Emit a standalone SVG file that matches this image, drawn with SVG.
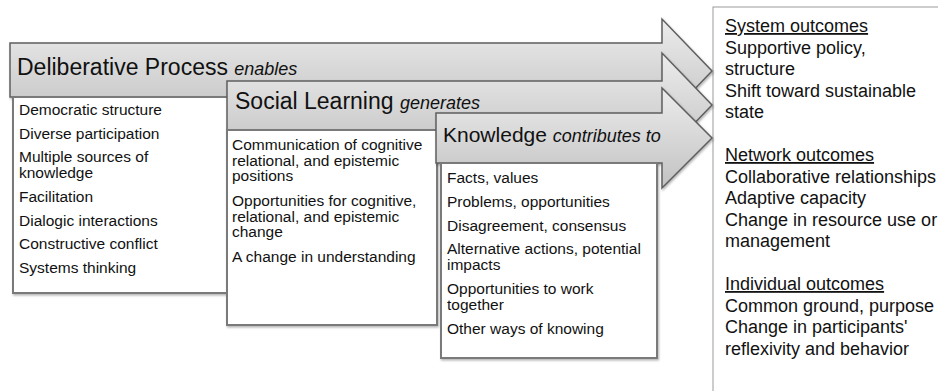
<svg xmlns="http://www.w3.org/2000/svg" width="938" height="391" viewBox="0 0 938 391">
<defs>
<linearGradient id="ag" x1="0" y1="0" x2="0" y2="1">
<stop offset="0" stop-color="#ececec"/>
<stop offset="1" stop-color="#c2c2c2"/>
</linearGradient>
<filter id="sh" x="-5%" y="-5%" width="110%" height="115%">
<feDropShadow dx="1" dy="1.5" stdDeviation="1" flood-color="#000" flood-opacity="0.3"/>
</filter>
<style>
.arrow{fill:url(#ag);stroke:#5f5f5f;stroke-width:1.5;filter:url(#sh)}
.box{fill:#fff;stroke:#7a7a7a;stroke-width:2;filter:url(#sh)}
.obox{fill:#fff;stroke:#9a9a9a;stroke-width:1}
.hd{font-family:"Liberation Sans",Arial,sans-serif;fill:#111}
.it{font-style:italic;font-size:18px}
.li{font-family:"Liberation Sans",Arial,sans-serif;font-size:15.5px;fill:#111}
.ot{font-family:"Liberation Sans",Arial,sans-serif;font-size:18px;fill:#111}
.ul{text-decoration:underline}
</style>
</defs>
<g id="outcomes">
<rect class="obox" x="713" y="7" width="240" height="395"/>
<text class="ot" x="725" y="32"><tspan class="ul">System outcomes</tspan></text>
<text class="ot" x="725" y="53.5">Supportive policy,</text>
<text class="ot" x="725" y="75">structure</text>
<text class="ot" x="725" y="96.5">Shift toward sustainable</text>
<text class="ot" x="725" y="118">state</text>
<text class="ot" x="725" y="161"><tspan class="ul">Network outcomes</tspan></text>
<text class="ot" x="725" y="182.5">Collaborative relationships</text>
<text class="ot" x="725" y="204">Adaptive capacity</text>
<text class="ot" x="725" y="225.5">Change in resource use or</text>
<text class="ot" x="725" y="247">management</text>
<text class="ot" x="725" y="290"><tspan class="ul">Individual outcomes</tspan></text>
<text class="ot" x="725" y="311.5">Common ground, purpose</text>
<text class="ot" x="725" y="333">Change in participants'</text>
<text class="ot" x="725" y="354.5">reflexivity and behavior</text>
</g>
<g id="deliberative">
<path class="arrow" d="M10,43 H662 V19 L712,71 L662,123 V97 H10 Z"/>
<text class="hd" x="17" y="75" font-size="23">Deliberative Process <tspan class="it">enables</tspan></text>
<rect class="box" x="13" y="97" width="215" height="196"/>
<text class="li" x="19" y="115">Democratic structure</text>
<text class="li" x="19" y="138.5">Diverse participation</text>
<text class="li" x="19" y="162">Multiple sources of</text>
<text class="li" x="19" y="178">knowledge</text>
<text class="li" x="19" y="202">Facilitation</text>
<text class="li" x="19" y="225.5">Dialogic interactions</text>
<text class="li" x="19" y="249">Constructive conflict</text>
<text class="li" x="19" y="272.5">Systems thinking</text>
</g>
<g id="social-learning">
<path class="arrow" d="M227,81 H662 V53 L712,105 L662,157 V130 H227 Z"/>
<text class="hd" x="235" y="109" font-size="23">Social Learning <tspan class="it">generates</tspan></text>
<rect class="box" x="227" y="130" width="210" height="195"/>
<text class="li" x="232" y="150">Communication of cognitive</text>
<text class="li" x="232" y="165.5">relational, and epistemic</text>
<text class="li" x="232" y="181">positions</text>
<text class="li" x="232" y="206">Opportunities for cognitive,</text>
<text class="li" x="232" y="221.5">relational, and epistemic</text>
<text class="li" x="232" y="237">change</text>
<text class="li" x="232" y="262">A change in understanding</text>
</g>
<g id="knowledge">
<path class="arrow" d="M436,113 H662 V88 L712,138 L662,188 V163 H436 Z"/>
<text class="hd" x="443" y="142" font-size="21">Knowledge <tspan class="it">contributes to</tspan></text>
<rect class="box" x="441" y="163" width="216" height="195"/>
<text class="li" x="447" y="183">Facts, values</text>
<text class="li" x="447" y="207">Problems, opportunities</text>
<text class="li" x="447" y="231">Disagreement, consensus</text>
<text class="li" x="447" y="254">Alternative actions, potential</text>
<text class="li" x="447" y="270">impacts</text>
<text class="li" x="447" y="294">Opportunities to work</text>
<text class="li" x="447" y="310">together</text>
<text class="li" x="447" y="334">Other ways of knowing</text>
</g>
<g id="connectors"/>
</svg>
